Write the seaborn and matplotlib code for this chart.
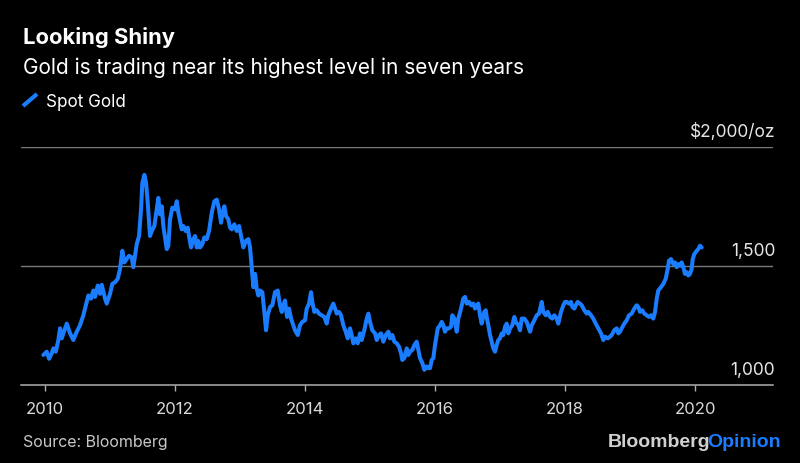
import matplotlib
matplotlib.use('Agg')
import matplotlib.pyplot as plt
from matplotlib.lines import Line2D
import seaborn as sns
import pandas as pd

# spot gold (decimal year, $/oz)
years = [
    2009.974, 2010.026, 2010.062, 2010.103, 2010.128, 2010.165, 2010.205, 2010.231, 2010.257, 2010.282,
    2010.334, 2010.385, 2010.435, 2010.488, 2010.538, 2010.589, 2010.642, 2010.666, 2010.708, 2010.743,
    2010.769, 2010.811, 2010.846, 2010.872, 2010.923, 2010.949, 2011.000, 2011.035, 2011.077, 2011.118,
    2011.154, 2011.189, 2011.220, 2011.257, 2011.292, 2011.334, 2011.358, 2011.385, 2011.411, 2011.446,
    2011.477, 2011.497, 2011.528, 2011.554, 2011.580, 2011.615, 2011.642, 2011.682, 2011.718, 2011.743,
    2011.769, 2011.795, 2011.820, 2011.872, 2011.897, 2011.923, 2011.958, 2012.000, 2012.026, 2012.051,
    2012.077, 2012.103, 2012.128, 2012.165, 2012.195, 2012.215, 2012.246, 2012.282, 2012.308, 2012.334,
    2012.358, 2012.385, 2012.420, 2012.451, 2012.488, 2012.523, 2012.565, 2012.605, 2012.642, 2012.677,
    2012.708, 2012.728, 2012.758, 2012.785, 2012.820, 2012.846, 2012.872, 2012.912, 2012.949, 2012.985,
    2013.026, 2013.051, 2013.088, 2013.128, 2013.154, 2013.169, 2013.189, 2013.205, 2013.231, 2013.257,
    2013.282, 2013.308, 2013.343, 2013.374, 2013.400, 2013.426, 2013.462, 2013.497, 2013.538, 2013.580,
    2013.615, 2013.642, 2013.666, 2013.692, 2013.723, 2013.754, 2013.785, 2013.820, 2013.846, 2013.888,
    2013.923, 2013.958, 2014.000, 2014.026, 2014.062, 2014.092, 2014.112, 2014.143, 2014.180, 2014.215,
    2014.257, 2014.297, 2014.334, 2014.358, 2014.400, 2014.435, 2014.462, 2014.488, 2014.523, 2014.554,
    2014.589, 2014.626, 2014.657, 2014.692, 2014.718, 2014.743, 2014.780, 2014.811, 2014.846, 2014.872,
    2014.912, 2014.949, 2014.974, 2015.000, 2015.035, 2015.077, 2015.103, 2015.138, 2015.169, 2015.205,
    2015.242, 2015.282, 2015.308, 2015.343, 2015.374, 2015.411, 2015.446, 2015.477, 2015.497, 2015.528,
    2015.565, 2015.589, 2015.615, 2015.651, 2015.682, 2015.718, 2015.743, 2015.769, 2015.805, 2015.835,
    2015.872, 2015.897, 2015.923, 2015.949, 2015.974, 2016.000, 2016.042, 2016.077, 2016.103, 2016.128,
    2016.154, 2016.180, 2016.215, 2016.246, 2016.266, 2016.297, 2016.334, 2016.358, 2016.400, 2016.435,
    2016.462, 2016.488, 2016.523, 2016.554, 2016.589, 2016.615, 2016.642, 2016.666, 2016.692, 2016.718,
    2016.758, 2016.780, 2016.795, 2016.820, 2016.846, 2016.872, 2016.897, 2016.923, 2016.949, 2016.974,
    2017.000, 2017.026, 2017.051, 2017.077, 2017.103, 2017.128, 2017.154, 2017.189, 2017.220, 2017.242,
    2017.282, 2017.308, 2017.334, 2017.374, 2017.411, 2017.435, 2017.462, 2017.488, 2017.528, 2017.565,
    2017.600, 2017.642, 2017.666, 2017.703, 2017.734, 2017.769, 2017.805, 2017.835, 2017.872, 2017.897,
    2017.938, 2017.974, 2018.000, 2018.026, 2018.062, 2018.092, 2018.112, 2018.143, 2018.165, 2018.195,
    2018.231, 2018.257, 2018.297, 2018.334, 2018.358, 2018.400, 2018.435, 2018.472, 2018.512, 2018.554,
    2018.589, 2018.615, 2018.657, 2018.692, 2018.718, 2018.758, 2018.795, 2018.820, 2018.846, 2018.872,
    2018.912, 2018.949, 2018.985, 2019.026, 2019.066, 2019.103, 2019.128, 2019.154, 2019.189, 2019.220,
    2019.257, 2019.292, 2019.323, 2019.358, 2019.385, 2019.411, 2019.435, 2019.477, 2019.512, 2019.549,
    2019.580, 2019.600, 2019.631, 2019.666, 2019.692, 2019.718, 2019.743, 2019.769, 2019.795, 2019.820,
    2019.846, 2019.872, 2019.897, 2019.923, 2019.949, 2019.965, 2019.989, 2020.026, 2020.051, 2020.077,
    2020.103,
]
gold = [
    1126, 1140, 1110, 1133, 1154, 1140, 1189, 1238, 1196, 1217,
    1258, 1217, 1189, 1224, 1251, 1293, 1349, 1376, 1363, 1397,
    1370, 1418, 1383, 1421, 1363, 1342, 1383, 1425, 1432, 1446,
    1488, 1564, 1515, 1529, 1543, 1536, 1495, 1543, 1592, 1626,
    1738, 1849, 1883, 1849, 1765, 1626, 1647, 1668, 1738, 1786,
    1717, 1751, 1668, 1571, 1585, 1696, 1745, 1738, 1772, 1724,
    1689, 1654, 1668, 1647, 1661, 1626, 1578, 1613, 1626, 1578,
    1605, 1578, 1592, 1620, 1613, 1647, 1724, 1772, 1779, 1738,
    1682, 1717, 1751, 1710, 1696, 1661, 1654, 1675, 1647, 1668,
    1613, 1578, 1605, 1613, 1578, 1529, 1460, 1411, 1467, 1404,
    1376, 1397, 1390, 1307, 1230, 1293, 1328, 1335, 1390, 1397,
    1335, 1307, 1335, 1355, 1286, 1321, 1279, 1251, 1230, 1210,
    1251, 1265, 1272, 1321, 1342, 1390, 1349, 1307, 1314, 1300,
    1293, 1286, 1258, 1293, 1321, 1342, 1321, 1300, 1307, 1293,
    1251, 1224, 1196, 1238, 1210, 1175, 1196, 1175, 1217, 1189,
    1230, 1279, 1300, 1265, 1230, 1217, 1189, 1210, 1217, 1182,
    1210, 1224, 1196, 1210, 1182, 1175, 1161, 1133, 1105, 1113,
    1154, 1126, 1140, 1147, 1168, 1182, 1147, 1113, 1092, 1064,
    1078, 1071, 1071, 1105, 1113, 1168, 1238, 1251, 1265, 1251,
    1224, 1238, 1238, 1245, 1293, 1279, 1224, 1279, 1321, 1363,
    1370, 1342, 1349, 1335, 1342, 1321, 1335, 1342, 1293, 1258,
    1307, 1314, 1286, 1251, 1210, 1182, 1154, 1140, 1168, 1189,
    1196, 1217, 1210, 1245, 1258, 1217, 1238, 1251, 1286, 1265,
    1251, 1230, 1279, 1279, 1265, 1245, 1224, 1251, 1272, 1293,
    1300, 1349, 1307, 1293, 1307, 1286, 1279, 1293, 1279, 1258,
    1307, 1335, 1349, 1349, 1342, 1349, 1328, 1321, 1335, 1349,
    1342, 1335, 1314, 1300, 1307, 1293, 1279, 1258, 1238, 1217,
    1189, 1203, 1196, 1203, 1210, 1230, 1238, 1217, 1224, 1238,
    1258, 1272, 1293, 1300, 1321, 1335, 1328, 1307, 1314, 1300,
    1293, 1286, 1293, 1279, 1307, 1363, 1397, 1411, 1425, 1446,
    1488, 1522, 1529, 1508, 1515, 1495, 1508, 1501, 1515, 1495,
    1467, 1474, 1460, 1467, 1488, 1529, 1550, 1564, 1571, 1585,
    1578,
]

x_ticks = [2010, 2012, 2014, 2016, 2018, 2020]
y_ticks = [1000, 1500, 2000]
y_tick_labels = ['1,000', '1,500', '$2,000/oz']

df = pd.DataFrame({'year': years, 'price': gold})

blue = '#1a7cff'
sns.set_theme(style='ticks')
plt.rcParams['font.family'] = ['Inter', 'Liberation Sans', 'DejaVu Sans']
plt.rcParams['figure.facecolor'] = 'black'
plt.rcParams['axes.facecolor'] = 'black'

fig = plt.figure(figsize=(8, 4.64), dpi=100)
ax = fig.add_axes([21 / 800, 78 / 464, 752 / 800, 238 / 464])

sns.lineplot(data=df, x='year', y='price', ax=ax, color=blue, linewidth=2.9,
             estimator=None, sort=False, solid_joinstyle='round', solid_capstyle='round')

ax.set_xlim(2009.63, 2021.2)
ax.set_ylim(1000, 2000)
ax.set_xlabel('')
ax.set_ylabel('')

for s in ['top', 'right', 'left']:
    ax.spines[s].set_visible(False)
ax.spines['bottom'].set_color('#b0b0b0')
ax.spines['bottom'].set_linewidth(1.1)

ax.set_xticks(x_ticks)
ax.set_xticklabels([str(y) for y in x_ticks])
ax.tick_params(axis='x', colors='#b0b0b0', labelcolor='#d9d9d9', length=4.5, width=1,
               pad=7, labelsize=12)
ax.set_yticks([])

# gridlines and right-side labels sitting above them
for val, lab in zip(y_ticks, y_tick_labels):
    if val != 1000:
        ax.axhline(val, color='#7a7a7a', linewidth=1, zorder=0)
    ax.annotate(lab, xy=(1, val), xycoords=('axes fraction', 'data'),
                xytext=(1.5, 8), textcoords='offset points',
                ha='right', va='baseline', color='#e6e6e6', fontsize=12.5)

# header
fig.text(23 / 800, 1 - 44 / 464, 'Looking Shiny', color='white', fontsize=15.8,
         fontweight='bold', ha='left', va='baseline')
fig.text(23 / 800, 1 - 74 / 464, 'Gold is trading near its highest level in seven years',
         color='white', fontsize=15, ha='left', va='baseline')

# legend
fig.add_artist(Line2D([23 / 800, 37 / 800], [1 - 107 / 464, 1 - 95 / 464],
                      color=blue, linewidth=3, solid_capstyle='butt'))
fig.text(46 / 800, 1 - 107 / 464, 'Spot Gold', color='white', fontsize=12.3,
         ha='left', va='baseline')

# footer
fig.text(23 / 800, 1 - 447 / 464, 'Source: Bloomberg', color='#c8c8c8', fontsize=11.5,
         ha='left', va='baseline')
op = fig.text(781 / 800, 1 - 447 / 464, 'Opinion', color=blue, fontsize=14,
              fontweight='bold', ha='right', va='baseline', family='Liberation Sans')
fig.canvas.draw()
bb = op.get_window_extent()
fig.text((bb.x0 + 3) / fig.bbox.width, 1 - 447 / 464, 'Bloomberg', color='#d0d0d0',
         fontsize=14, fontweight='bold', ha='right', va='baseline', family='Liberation Sans')

fig.savefig('out.png', dpi=100, facecolor='black')
